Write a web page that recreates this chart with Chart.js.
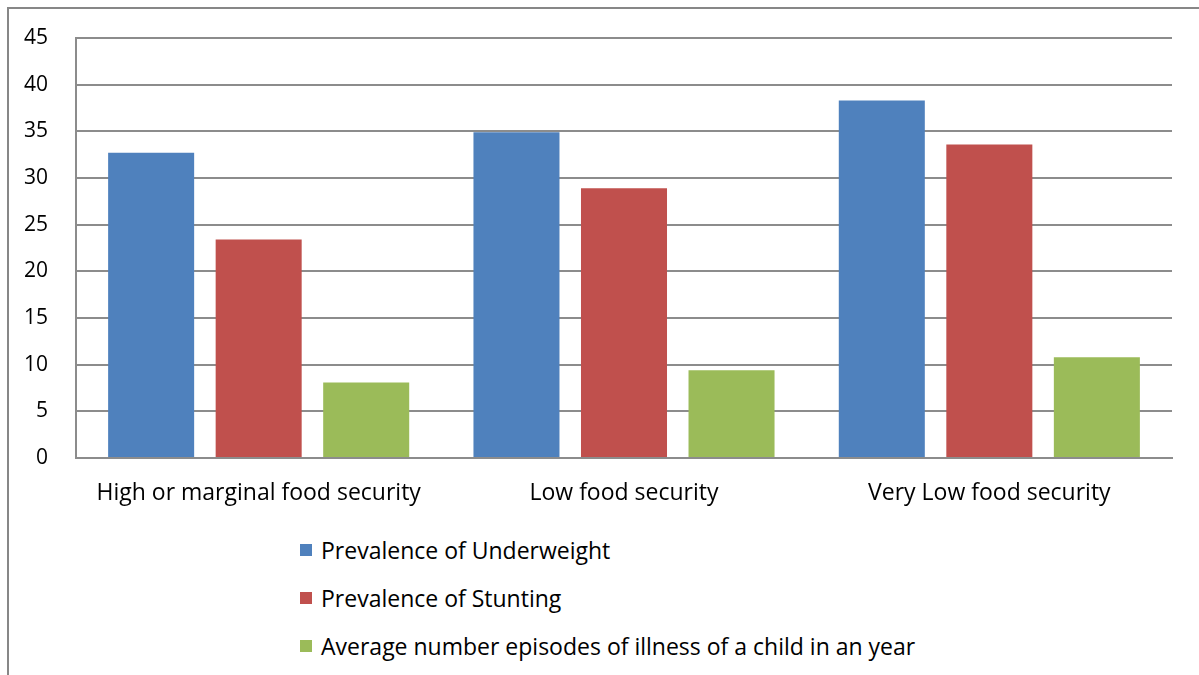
<!DOCTYPE html>
<html>
<head>
<meta charset="utf-8">
<script src="https://cdn.jsdelivr.net/npm/chart.js@4"></script>
<style>
    html, body { margin: 0; padding: 0; background: #fff; }
    body { width: 1199px; height: 675px; position: relative; overflow: hidden; font-family: "Open Sans", Lato, sans-serif; }
    .frame { position: absolute; left: 7px; top: 7px; width: 1300px; height: 800px; border: 2px solid #878787; box-sizing: border-box; }
    .chart-box { position: absolute; left: 0; top: 0; width: 1199px; height: 520px; }
    #legend { position: absolute; left: 300px; top: 526px; }
    .legend-item { display: flex; align-items: center; height: 48px; font-size: 23px; color: #000; }
    .legend-box { width: 12px; height: 12px; margin-right: 9px; }
</style>
</head>
<body>
<div class="frame"></div>
<div class="chart-box"><canvas id="chart"></canvas></div>
<div id="legend"></div>
<script>
const categories = ['High or marginal food security', 'Low food security', 'Very Low food security'];
const seriesNames = [
    'Prevalence of Underweight',
    'Prevalence of Stunting',
    'Average number episodes of illness of a child in an year'
];
const underweight = [32.7, 34.9, 38.3];
const stunting = [23.4, 28.9, 33.6];
const illness = [8.1, 9.4, 10.8];
const colors = ['#4F81BD', '#C0504D', '#9BBB59'];

const gridColor = '#8c8c8c';
const font = '"Open Sans", Lato, sans-serif';

const ctx = document.getElementById('chart').getContext('2d');
const chart = new Chart(ctx, {
    type: 'bar',
    data: {
        labels: categories,
        datasets: [underweight, stunting, illness].map((values, i) => ({
            label: seriesNames[i],
            data: values,
            backgroundColor: colors[i],
            borderWidth: 0,
            barPercentage: 0.8,
            categoryPercentage: 0.883
        }))
    },
    options: {
        responsive: true,
        maintainAspectRatio: false,
        animation: false,
        layout: { padding: { left: 0, top: 38, right: 27, bottom: 0 } },
        plugins: {
            legend: { display: false },
            tooltip: { enabled: false }
        },
        scales: {
            x: {
                grid: { display: false, drawTicks: false },
                border: { display: true, color: gridColor, width: 2 },
                ticks: { color: '#000', font: { family: font, size: 23 }, padding: 22, maxRotation: 0 },
                afterFit: scale => { scale.height = 62; }
            },
            y: {
                min: 0,
                max: 45,
                ticks: { stepSize: 5, color: '#000', font: { family: font, size: 21 }, padding: 28 },
                grid: { color: gridColor, lineWidth: 2, drawTicks: false },
                border: { display: true, color: gridColor, width: 2 },
                afterFit: scale => {
                    scale.width = 76;
                    scale.paddingTop = 0;
                    scale.paddingBottom = 0;
                }
            }
        }
    }
});

// Vertical legend below the chart, built from the datasets
const legend = document.getElementById('legend');
chart.data.datasets.forEach(ds => {
    const item = document.createElement('div');
    item.className = 'legend-item';
    const box = document.createElement('span');
    box.className = 'legend-box';
    box.style.background = ds.backgroundColor;
    const text = document.createElement('span');
    text.textContent = ds.label;
    item.appendChild(box);
    item.appendChild(text);
    legend.appendChild(item);
});
</script>
</body>
</html>
